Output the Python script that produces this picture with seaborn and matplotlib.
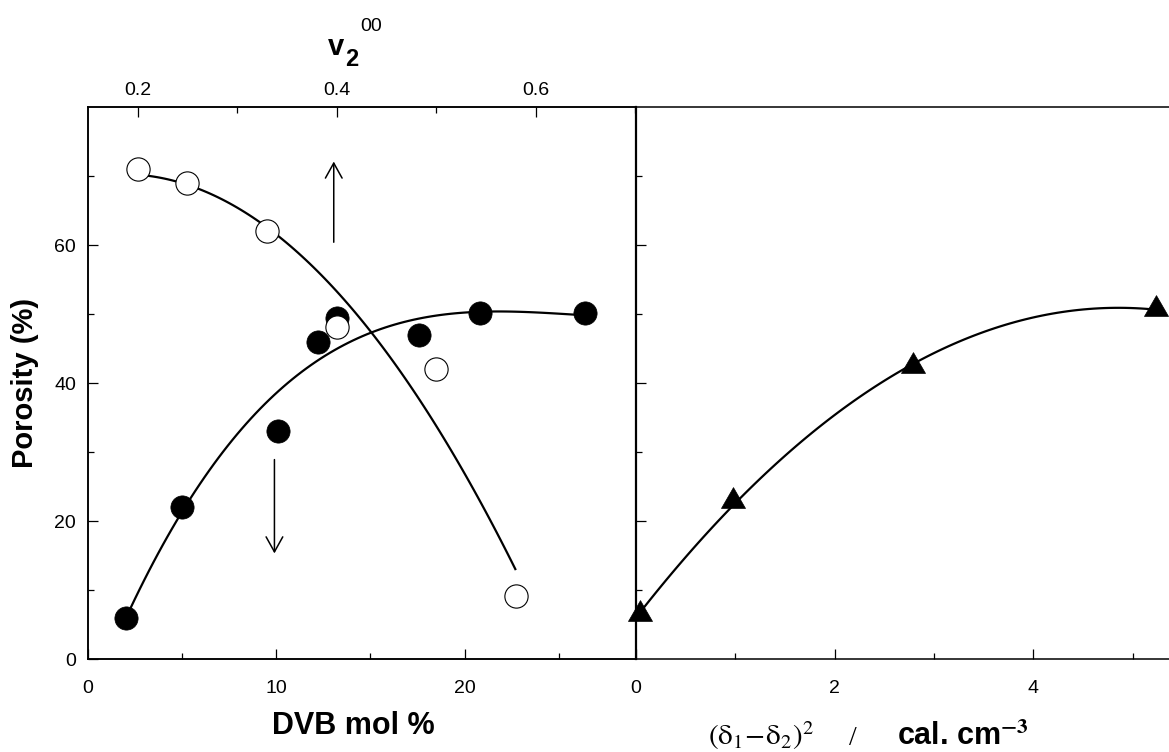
import matplotlib
matplotlib.use("Agg")
import matplotlib.pyplot as plt
import numpy as np
import pandas as pd
import seaborn as sns
from matplotlib.ticker import MultipleLocator, FormatStrFormatter

# Porosity vs. crosslinker content (filled circles, bottom axis)
dvb_mol = [2.0, 5.0, 10.1, 12.2, 13.2, 17.6, 20.8, 26.4]
porosity_dvb = [6.0, 22.0, 33.1, 46.0, 49.4, 47.0, 50.1, 50.1]

# Porosity vs. polymer volume fraction at gel point (open circles, top axis)
v2_frac = [0.20, 0.25, 0.33, 0.40, 0.50, 0.58]
porosity_v2 = [71.0, 69.0, 62.0, 48.1, 42.1, 9.2]

# Porosity vs. squared solubility-parameter difference (triangles)
delta_sq = [0.045, 0.98, 2.79, 5.24]
porosity_delta = [6.5, 22.9, 42.4, 50.7]

df_dvb = pd.DataFrame({"dvb": dvb_mol, "porosity": porosity_dvb})
df_v2 = pd.DataFrame({"v2": v2_frac, "porosity": porosity_v2})
df_delta = pd.DataFrame({"delta": delta_sq, "porosity": porosity_delta})

sns.set_theme(style="ticks")
plt.rcParams["font.family"] = ["Liberation Sans", "DejaVu Sans"]
plt.rcParams["mathtext.fontset"] = "stix"

W, H = 1169, 752
fig = plt.figure(figsize=(W / 100, H / 100), dpi=100)
fig.patch.set_facecolor("white")

x0, xdiv, xr = 88, 636, 1200
ytop, ybot = 107, 659

def frac_rect(xa, xb, ya, yb):
    return [xa / W, 1 - yb / H, (xb - xa) / W, (yb - ya) / H]

ax = fig.add_axes(frac_rect(x0, xdiv, ytop, ybot))
ax2 = fig.add_axes(frac_rect(xdiv, xr, ytop, ybot))

black = "#000000"
curve_kw = dict(color=black, lw=1.6, solid_capstyle="butt")
arrow_kw = dict(arrowstyle="->,head_length=0.9,head_width=0.5",
                color=black, lw=1.1, shrinkA=0, shrinkB=0)

# ---- left panel: DVB content ----
sns.regplot(data=df_dvb, x="dvb", y="porosity", order=3, ci=None,
            scatter=False, line_kws=curve_kw, ax=ax)
sns.scatterplot(data=df_dvb, x="dvb", y="porosity", ax=ax, s=280,
                color=black, edgecolor=black, linewidth=0.5, zorder=3)
ax.set_xlim(0, 29.1)
ax.set_ylim(0, 80)

# top axis for v2
axt = ax.twiny()
sns.regplot(data=df_v2, x="v2", y="porosity", order=2, ci=None,
            scatter=False, line_kws=curve_kw, ax=axt)
sns.scatterplot(data=df_v2, x="v2", y="porosity", ax=axt, s=280,
                color="white", edgecolor=black, linewidth=0.8, zorder=3)
axt.set_xlim(0.15, 0.7008)
axt.set_ylim(0, 80)

# direction arrows: up -> top axis, down -> bottom axis
ax.annotate("", xy=(13.05, 72.1), xytext=(13.05, 60.4), arrowprops=arrow_kw)
ax.annotate("", xy=(9.9, 15.3), xytext=(9.9, 28.9), arrowprops=arrow_kw)

# ---- right panel: solubility parameter ----
sns.regplot(data=df_delta, x="delta", y="porosity", order=2, ci=None,
            scatter=False, line_kws=curve_kw, ax=ax2)
sns.scatterplot(data=df_delta, x="delta", y="porosity", ax=ax2, s=400,
                marker=(3, 0, 0), color=black, edgecolor=black,
                linewidth=0.5, zorder=3, clip_on=False)
ax2.set_xlim(0, (xr - xdiv) / 99.3)
ax2.set_ylim(0, 80)

# ---- axis styling ----
for a in (ax, axt, ax2):
    a.set_xlabel("")
    a.set_ylabel("")
    a.set_facecolor("none")
    for s in a.spines.values():
        s.set_color(black)
        s.set_linewidth(1.1)

ax.xaxis.set_major_locator(MultipleLocator(10))
ax.xaxis.set_minor_locator(MultipleLocator(5))
ax.set_yticks([0, 20, 40, 60])
ax.set_yticks([10, 30, 50, 70], minor=True)
ax.tick_params(which="both", direction="in", top=False, right=False,
               colors=black, labelsize=14, labelcolor=black)
ax.tick_params(which="major", length=7.5, width=0.9)
ax.tick_params(which="minor", length=4, width=0.9)
ax.tick_params(axis="x", pad=15)
ax.tick_params(axis="y", pad=8.5)

axt.xaxis.set_major_locator(MultipleLocator(0.2))
axt.xaxis.set_minor_locator(MultipleLocator(0.1))
axt.xaxis.set_major_formatter(FormatStrFormatter("%.1f"))
axt.tick_params(which="both", direction="in", colors=black, labelsize=14,
                labelcolor=black, pad=6)
axt.tick_params(which="major", length=7.5, width=0.9)
axt.tick_params(which="minor", length=4, width=0.9)
axt.tick_params(axis="y", left=False, right=False, labelleft=False,
                labelright=False)

ax2.xaxis.set_major_locator(MultipleLocator(2))
ax2.xaxis.set_minor_locator(MultipleLocator(1))
ax2.set_yticks([20, 40, 60])
ax2.set_yticks([10, 30, 50, 70], minor=True)
ax2.tick_params(which="both", direction="in", top=False, right=False,
                colors=black, labelsize=14, labelcolor=black)
ax2.tick_params(which="major", length=7.5, width=0.9)
ax2.tick_params(which="minor", length=4, width=0.9)
ax2.tick_params(axis="x", pad=15)
ax2.tick_params(axis="y", labelleft=False)
ax2.spines["right"].set_visible(False)
ax2.spines["left"].set_linewidth(1.6)

# ---- axis titles ----
fig.text(25 / W, 1 - 383 / H, "Porosity (%)", rotation=90, ha="center",
         va="center", fontsize=21, fontweight="bold", color=black)
fig.text(353 / W, 1 - 726 / H, "DVB mol %", ha="center", va="center",
         fontsize=22, fontweight="bold", color=black)

fig.text(328 / W, 1 - 55 / H, "v", ha="left", va="baseline",
         fontsize=21, fontweight="bold", color=black)
fig.text(345 / W, 1 - 66 / H, "2", ha="left", va="baseline",
         fontsize=17, fontweight="bold", color=black)
fig.text(360 / W, 1 - 31 / H, "00", ha="left", va="baseline",
         fontsize=14, color=black)

fig.text(708 / W, 1 - 745 / H, r"$\mathrm{(\delta_1\!-\!\delta_2)^2}$",
         ha="left", va="baseline", fontsize=21, color=black)
fig.text(853 / W, 1 - 745 / H, "/", ha="center", va="baseline",
         fontsize=20, family="Liberation Serif", color=black)
fig.text(897 / W, 1 - 745 / H, r"cal. cm$^{\mathbf{-3}}$", ha="left",
         va="baseline", fontsize=22, fontweight="bold", color=black)

fig.savefig("out.png", dpi=100, facecolor="white")
